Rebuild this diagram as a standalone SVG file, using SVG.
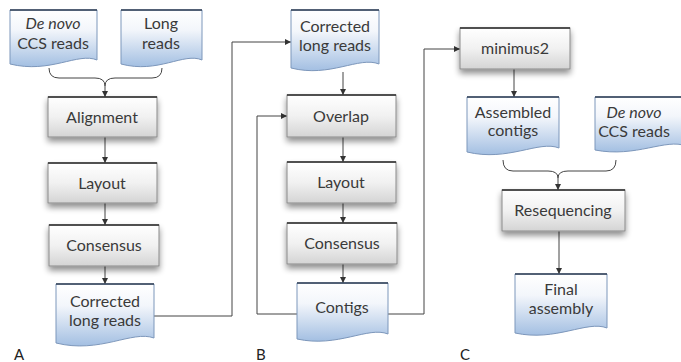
<svg xmlns="http://www.w3.org/2000/svg" width="681" height="362" viewBox="0 0 681 362">
<defs>
<linearGradient id="gbox" x1="0" y1="0" x2="0" y2="1">
<stop offset="0" stop-color="#ffffff"/>
<stop offset="0.5" stop-color="#f1f1f1"/>
<stop offset="1" stop-color="#d4d4d4"/>
</linearGradient>
<linearGradient id="gdoc" x1="0" y1="0" x2="0" y2="1">
<stop offset="0" stop-color="#ffffff"/>
<stop offset="0.35" stop-color="#f3f6fb"/>
<stop offset="1" stop-color="#a3bfe2"/>
</linearGradient>
<filter id="sh" x="-20%" y="-20%" width="140%" height="160%">
<feGaussianBlur in="SourceAlpha" stdDeviation="3"/>
<feOffset dy="4" result="b"/>
<feComponentTransfer><feFuncA type="linear" slope="0.45"/></feComponentTransfer>
<feMerge><feMergeNode/><feMergeNode in="SourceGraphic"/></feMerge>
</filter>
<marker id="ah" viewBox="0 0 8 8" refX="8" refY="4" markerWidth="6" markerHeight="6" orient="auto" markerUnits="userSpaceOnUse">
<path d="M0,0 L8,4 L0,8 Z" fill="#333"/>
</marker>
</defs>
<style>
.box{fill:url(#gbox);stroke:#8a8a8a;stroke-width:1}
.top{stroke:#2a2a2a;stroke-width:1.5}
.doc{fill:url(#gdoc);stroke:#7d97bb;stroke-width:1}
.dtop{stroke:#2e3d52;stroke-width:1.5}
.t{font-family:Lato,"Open Sans","Liberation Sans",sans-serif;font-size:16px;fill:#3a3a3a;text-anchor:middle}
.i{font-style:italic}
.lbl{font-family:Lato,"Liberation Sans",sans-serif;font-size:15px;fill:#222}
.c{fill:none;stroke:#444;stroke-width:1}
.ca{fill:none;stroke:#444;stroke-width:1;marker-end:url(#ah)}
</style>

<g id="connectors">
<path class="c" d="M49,68 Q49,78 59,78 H95 Q105,78 105,86 Q105,78 115,78 H152 Q162,78 162,68"/>
<path class="ca" d="M105,86 V97"/>
<path class="ca" d="M105,137 V163"/>
<path class="ca" d="M105,203 V225"/>
<path class="ca" d="M105,266 V284"/>
<path class="ca" d="M154,316 H232 V42 H291"/>
<path class="ca" d="M343,72 V95"/>
<path class="ca" d="M343,137 V162"/>
<path class="ca" d="M343,203 V223"/>
<path class="ca" d="M343,264 V283"/>
<path class="ca" d="M297,314 H257 V116 H287"/>
<path class="ca" d="M388,314 H424 V49 H460"/>
<path class="ca" d="M514,69 V97"/>
<path class="c" d="M503,160 Q503,171 513,171 H548 Q558,171 558,178 Q558,171 568,171 H606 Q616,171 616,160"/>
<path class="ca" d="M558,178 V190"/>
<path class="ca" d="M559,231 V274"/>
</g>

<g id="a-denovo">
<path class="doc" d="M10,10 H97 V60 C78,52 50,74 10,64 Z"/>
<path class="dtop" d="M10,10 H97"/>
<text class="t i" x="53" y="29">De novo</text>
<text class="t" x="53" y="49">CCS reads</text>
</g>
<g id="a-long">
<path class="doc" d="M121,10 H202 V60 C184,52 158,74 121,64 Z"/>
<path class="dtop" d="M121,10 H202"/>
<text class="t" x="161" y="29">Long</text>
<text class="t" x="161" y="49">reads</text>
</g>
<g id="a-alignment">
<rect class="box" x="48" y="97" width="109" height="40" filter="url(#sh)"/>
<path class="top" d="M48,97 H157"/>
<text class="t" x="102" y="123">Alignment</text>
</g>
<g id="a-layout">
<rect class="box" x="48" y="163" width="109" height="40" filter="url(#sh)"/>
<path class="top" d="M48,163 H157"/>
<text class="t" x="102" y="189">Layout</text>
</g>
<g id="a-consensus">
<rect class="box" x="49" y="225" width="110" height="41" filter="url(#sh)"/>
<path class="top" d="M49,225 H159"/>
<text class="t" x="104" y="251">Consensus</text>
</g>
<g id="a-corrected">
<path class="doc" d="M56,284 H154 V338 C132,330 100,354 56,343 Z"/>
<path class="dtop" d="M56,284 H154"/>
<text class="t" x="105" y="307">Corrected</text>
<text class="t" x="105" y="326">long reads</text>
</g>

<g id="b-corrected">
<path class="doc" d="M291,10 H379 V64 C359,56 330,78 291,68 Z"/>
<path class="dtop" d="M291,10 H379"/>
<text class="t" x="335" y="32">Corrected</text>
<text class="t" x="335" y="51">long reads</text>
</g>
<g id="b-overlap">
<rect class="box" x="287" y="95" width="109" height="42" filter="url(#sh)"/>
<path class="top" d="M287,95 H396"/>
<text class="t" x="341" y="122">Overlap</text>
</g>
<g id="b-layout">
<rect class="box" x="287" y="162" width="109" height="41" filter="url(#sh)"/>
<path class="top" d="M287,162 H396"/>
<text class="t" x="341" y="188">Layout</text>
</g>
<g id="b-consensus">
<rect class="box" x="287" y="223" width="110" height="41" filter="url(#sh)"/>
<path class="top" d="M287,223 H397"/>
<text class="t" x="342" y="249">Consensus</text>
</g>
<g id="b-contigs">
<path class="doc" d="M297,283 H388 V334 C368,326 338,348 297,339 Z"/>
<path class="dtop" d="M297,283 H388"/>
<text class="t" x="342" y="313">Contigs</text>
</g>

<g id="c-minimus2">
<rect class="box" x="460" y="28" width="110" height="41" filter="url(#sh)"/>
<path class="top" d="M460,28 H570"/>
<text class="t" x="515" y="54">minimus2</text>
</g>
<g id="c-assembled">
<path class="doc" d="M467,97 H559 V148 C539,140 508,162 467,152 Z"/>
<path class="dtop" d="M467,97 H559"/>
<text class="t" x="513" y="118">Assembled</text>
<text class="t" x="513" y="136">contigs</text>
</g>
<g id="c-denovo">
<path class="doc" d="M595,97 H686 V146 C666,138 636,158 595,150 Z"/>
<path class="dtop" d="M595,97 H686"/>
<text class="t i" x="634" y="118">De novo</text>
<text class="t" x="634" y="137">CCS reads</text>
</g>
<g id="c-resequencing">
<rect class="box" x="502" y="190" width="123" height="41" filter="url(#sh)"/>
<path class="top" d="M502,190 H625"/>
<text class="t" x="563" y="216">Resequencing</text>
</g>
<g id="c-final">
<path class="doc" d="M515,274 H607 V328 C587,320 556,342 515,333 Z"/>
<path class="dtop" d="M515,274 H607"/>
<text class="t" x="561" y="295">Final</text>
<text class="t" x="561" y="314">assembly</text>
</g>

<text class="lbl" x="14" y="360">A</text>
<text class="lbl" x="256" y="360">B</text>
<text class="lbl" x="460" y="360">C</text>
</svg>
